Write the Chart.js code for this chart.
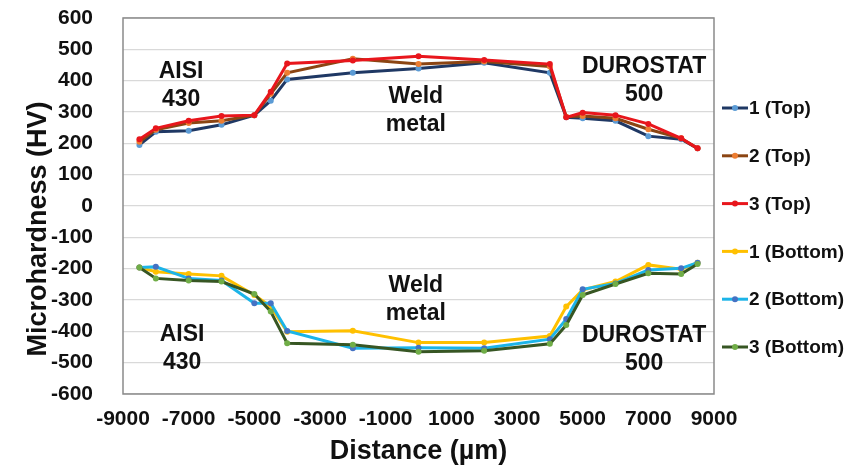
<!DOCTYPE html>
<html>
<head>
<meta charset="utf-8">
<script src="https://cdn.jsdelivr.net/npm/chart.js@4.4.1/dist/chart.umd.min.js"></script>
<style>
  html, body { margin: 0; padding: 0; background: #ffffff; }
  #wrap { width: 846px; height: 471px; }
</style>
</head>
<body>
<div id="wrap"><canvas id="c" width="846" height="471"></canvas></div>
<script>
// ---- data ----
const distances = [-8500, -8000, -7000, -6000, -5000, -4500, -4000, -2000, 0, 2000, 4000, 4500, 5000, 6000, 7000, 8000, 8500];
const top1 = [195, 237, 240, 259, 290, 336, 404, 425, 439, 457, 425, 283, 280, 272, 223, 213, 184];
const top2 = [205, 243, 265, 272, 290, 358, 425, 470, 453, 461, 445, 285, 287, 280, 245, 216, 184];
const top3 = [213, 248, 272, 287, 290, 365, 455, 464, 478, 466, 453, 283, 298, 290, 262, 216, 184];
const bottom1 = [-196, -210, -217, -223, -284, -321, -401, -398, -436, -436, -415, -321, -268, -241, -188, -202, -181];
const bottom2 = [-196, -194, -231, -238, -310, -310, -399, -454, -452, -454, -425, -361, -266, -247, -204, -199, -181];
const bottom3 = [-196, -231, -238, -241, -281, -337, -438, -443, -465, -462, -440, -380, -284, -249, -215, -217, -185];
const seriesNames = ['1 (Top)', '2 (Top)', '3 (Top)', '1 (Bottom)', '2 (Bottom)', '3 (Bottom)'];
const xTitle = 'Distance (µm)';
const yTitle = 'Microhardness (HV)';
const regionLabels = [
  { lines: ['AISI', '430'], x: -7230, y: 428 },
  { lines: ['Weld', 'metal'], x: -80, y: 348 },
  { lines: ['DUROSTAT', '500'], x: 6870, y: 444 },
  { lines: ['Weld', 'metal'], x: -80, y: -255 },
  { lines: ['AISI', '430'], x: -7200, y: -412 },
  { lines: ['DUROSTAT', '500'], x: 6870, y: -415 }
];

// ---- styles ----
const lineColors = ['#1f3864', '#8b4513', '#e8161c', '#ffc000', '#1cb4e8', '#375623'];
const markerColors = ['#5b9bd5', '#ed7d31', '#e8161c', '#ffc000', '#4472c4', '#70ad47'];
const FONT = "'Liberation Sans', Arial, sans-serif";

const allSeries = [top1, top2, top3, bottom1, bottom2, bottom3];
const datasets = allSeries.map((vals, i) => ({
  label: seriesNames[i],
  data: distances.map((d, k) => ({ x: d, y: vals[k] })),
  borderColor: lineColors[i],
  backgroundColor: markerColors[i],
  pointBackgroundColor: markerColors[i],
  pointBorderWidth: 0,
  pointRadius: 3,
  borderWidth: 3,
  tension: 0,
  order: 10 - i
}));

const bgPlugin = {
  id: 'bg',
  beforeDraw(chart) {
    const ctx = chart.ctx;
    ctx.save();
    ctx.fillStyle = '#ffffff';
    ctx.fillRect(0, 0, chart.width, chart.height);
    ctx.restore();
  },
  afterDatasetsDraw(chart) {
    const ctx = chart.ctx;
    const a = chart.chartArea;
    ctx.save();
    ctx.strokeStyle = '#8a8a8a';
    ctx.lineWidth = 1.5;
    ctx.strokeRect(a.left, a.top, a.right - a.left, a.bottom - a.top);
    ctx.restore();
  }
};

const textPlugin = {
  id: 'texts',
  afterDraw(chart) {
    const ctx = chart.ctx;
    const xs = chart.scales.x, ys = chart.scales.y;
    ctx.save();
    ctx.fillStyle = '#111111';
    ctx.font = 'bold 23px ' + FONT;
    ctx.textAlign = 'center';
    ctx.textBaseline = 'middle';
    regionLabels.forEach(r => {
      const px = xs.getPixelForValue(r.x);
      const py = ys.getPixelForValue(r.y);
      r.lines.forEach((t, j) => ctx.fillText(t, px, py + j * 27.5));
    });
    // y axis title (sits a little below the plot centre, as in the original)
    ctx.save();
    ctx.translate(39, (chart.chartArea.top + chart.chartArea.bottom) / 2 + 23);
    ctx.rotate(-Math.PI / 2);
    ctx.font = 'bold 27px ' + FONT;
    ctx.fillText(yTitle, 0, 0);
    ctx.restore();
    // legend
    const lx = chart.chartArea.right + 8;
    const legendTop = 108;
    const step = 47.8;
    ctx.textAlign = 'left';
    ctx.font = 'bold 19px ' + FONT;
    seriesNames.forEach((name, i) => {
      const y = legendTop + i * step;
      ctx.strokeStyle = lineColors[i];
      ctx.lineWidth = 3;
      ctx.beginPath();
      ctx.moveTo(lx, y);
      ctx.lineTo(lx + 26, y);
      ctx.stroke();
      ctx.fillStyle = markerColors[i];
      ctx.beginPath();
      ctx.arc(lx + 13, y, 3, 0, Math.PI * 2);
      ctx.fill();
      ctx.fillStyle = '#111111';
      ctx.fillText(name, lx + 27, y + 1);
    });
    ctx.restore();
  }
};

new Chart(document.getElementById('c'), {
  type: 'line',
  data: { datasets },
  options: {
    responsive: false,
    animation: false,
    layout: { padding: { top: 18, right: 132, left: 0, bottom: 0 } },
    plugins: { legend: { display: false }, tooltip: { enabled: false } },
    scales: {
      x: {
        type: 'linear',
        min: -9000, max: 9000,
        ticks: { stepSize: 2000, color: '#111111', font: { family: FONT, size: 21, weight: 'bold' }, padding: 13, maxRotation: 0, autoSkip: false, callback: v => String(v) },
        grid: { display: false, drawTicks: false },
        border: { display: false },
        title: { display: true, text: xTitle, color: '#111111', font: { family: FONT, size: 27, weight: 'bold' }, padding: { top: 0, bottom: 3 } },
        afterFit(scale) { scale.height = 77; scale.paddingLeft = 0; scale.paddingRight = 0; }
      },
      y: {
        min: -600, max: 600,
        ticks: { stepSize: 100, color: '#111111', font: { family: FONT, size: 21, weight: 'bold' }, padding: 30, callback: v => String(v) },
        grid: { color: '#d9d9d9', lineWidth: 1.3, drawTicks: false },
        border: { display: false },
        title: { display: false, text: yTitle },
        afterFit(scale) { scale.width = 123; scale.paddingTop = 0; scale.paddingBottom = 0; }
      }
    }
  },
  plugins: [bgPlugin, textPlugin]
});
</script>
</body>
</html>
